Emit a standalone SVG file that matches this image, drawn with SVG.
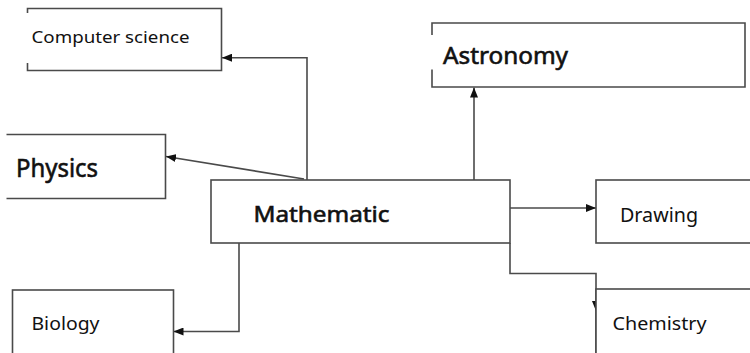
<svg xmlns="http://www.w3.org/2000/svg" width="750" height="353" viewBox="0 0 750 353">
<defs>
<style>
.box{fill:#fff;stroke:#4a4a4a;stroke-width:1.6}
.edge{fill:none;stroke:#4a4a4a;stroke-width:1.6}
.lbl{font-family:"Noto Sans","Liberation Sans",sans-serif;fill:#111}
.big{stroke:#111;stroke-width:0.6}
</style>
<marker id="ah" viewBox="0 0 10 8" refX="10" refY="4" markerWidth="10" markerHeight="8" markerUnits="userSpaceOnUse" orient="auto">
<path d="M0,0 L10,4 L0,8 Z" fill="#111"/>
</marker>
</defs>
<rect width="750" height="353" fill="#fff"/>
<g id="connectors">
<path class="edge" d="M307,180 V57.7 H222" marker-end="url(#ah)"/>
<path class="edge" d="M304,179 L166,156.5" marker-end="url(#ah)"/>
<path class="edge" d="M474,180 V87.5" marker-end="url(#ah)"/>
<path class="edge" d="M510,208 H596" marker-end="url(#ah)"/>
<path class="edge" d="M239,243 V331.5 H173.5" marker-end="url(#ah)"/>
<path class="edge" d="M510,243 V273.5 H596 V311" marker-end="url(#ah)"/>
<path class="edge" d="M596,311 V360"/>
</g>
<g id="computer-science">
<path class="box" d="M27.5,13 V8.5 H221.5 V70.5 H27.5 V63"/>
<text class="lbl" x="31.5" y="42.5" font-size="17" textLength="158" lengthAdjust="spacingAndGlyphs">Computer science</text>
</g>
<g id="physics">
<path class="box" d="M6.5,134.5 H165.5 V198.5 H6.5"/>
<text class="lbl big" x="16" y="176.5" font-size="26" textLength="82" lengthAdjust="spacingAndGlyphs">Physics</text>
</g>
<g id="astronomy">
<path class="box" d="M432,35 V23 H745 V87 H432 V69.5"/>
<text class="lbl big" x="443" y="63.5" font-size="23" textLength="125" lengthAdjust="spacingAndGlyphs">Astronomy</text>
</g>
<g id="mathematic">
<rect class="box" x="211" y="180" width="299" height="63"/>
<text class="lbl big" x="253.5" y="221.5" font-size="22" textLength="136" lengthAdjust="spacingAndGlyphs">Mathematic</text>
</g>
<g id="drawing">
<rect class="box" x="596" y="180" width="170" height="63"/>
<text class="lbl" x="620" y="221.5" font-size="19" textLength="78" lengthAdjust="spacingAndGlyphs">Drawing</text>
</g>
<g id="chemistry">
<rect class="box" x="596" y="289" width="170" height="80"/>
<text class="lbl" x="612.5" y="330" font-size="18.5" textLength="94" lengthAdjust="spacingAndGlyphs">Chemistry</text>
</g>
<g id="biology">
<rect class="box" x="12.5" y="290" width="161" height="80"/>
<text class="lbl" x="31.5" y="329.5" font-size="17.5" textLength="68" lengthAdjust="spacingAndGlyphs">Biology</text>
</g>
</svg>
